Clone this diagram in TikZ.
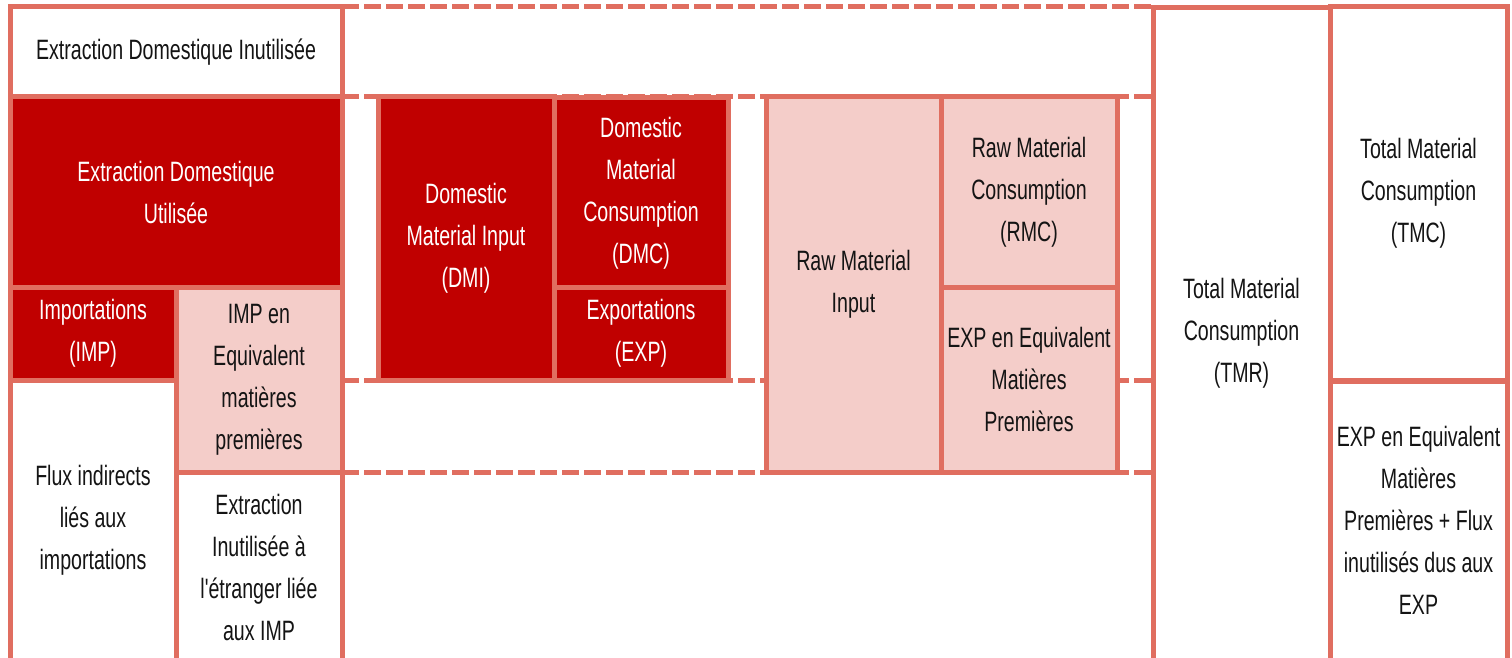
\documentclass[tikz,border=0pt]{standalone}
\usepackage{fontspec}
\setmainfont{Liberation Sans}[FakeStretch=0.70]
\newfontfamily\nolig{Liberation Sans}[FakeStretch=0.70, Ligatures=TeXOff]
\definecolor{lineC}{RGB}{224,110,96}
\definecolor{darkC}{RGB}{192,0,0}
\definecolor{pinkC}{RGB}{244,205,201}
\definecolor{textC}{RGB}{20,20,20}
\tikzset{
  cell/.style={rectangle, inner sep=0pt, outer sep=0pt, draw=lineC, line width=5pt,
    align=center, text=textC, font=\fontsize{28}{42}\selectfont},
  darkcell/.style={cell, fill=darkC, text=white},
  pinkcell/.style={cell, fill=pinkC},
  whitecell/.style={cell, fill=white},
  opencell/.style={rectangle, inner sep=0pt, outer sep=0pt, align=center, text=textC,
    font=\fontsize{28}{42}\selectfont},
  border/.style={draw=lineC, line width=5pt, line join=miter},
  dashline/.style={draw=lineC, line width=5pt, dash pattern=on 17pt off 5pt},
}
\begin{document}
\begin{tikzpicture}[x=1pt,y=-1pt]
\useasboundingbox (0,0) rectangle (1512,658);
\fill[white] (0,0) rectangle (1512,658);
\clip (0,0) rectangle (1512,658);

% open-bottom cells (text holders)
\node[opencell, minimum width=166pt, minimum height=278pt] (flux) at (93,520)
  {Flux indirects\\liés aux\\importations};
\node[opencell, minimum width=166pt, minimum height=186pt] (etr) at (259,567)
  {Extraction\\Inutilisée à\\l{\nolig'}étranger liée\\aux IMP};
\node[opencell, minimum width=177pt, minimum height=651pt] (tmr) at (1241.5,333.5)
  {Total Material\\Consumption\\(TMR)};
\node[opencell, minimum width=177pt, minimum height=278pt] (expfl) at (1418.5,520)
  {EXP en Equivalent\\Matières\\Premières + Flux\\inutilisés dus aux\\EXP};

% left column closed cells
\node[whitecell, minimum width=332pt, minimum height=90pt] (edi) at (176,52)
  {Extraction Domestique Inutilisée};
\node[darkcell, minimum width=332pt, minimum height=190pt] (edu) at (176,192)
  {Extraction Domestique\\Utilisée};
\node[darkcell, minimum width=166pt, minimum height=93pt] (imp) at (93,333.5)
  {Importations\\(IMP)};
\node[pinkcell, minimum width=166pt, minimum height=185pt] (impeq) at (259,379.5)
  {IMP en\\Equivalent\\matières\\premières};

% dashed guide lines (under the boxes)
\draw[dashline] (edi.north east) -- (edi.north east -| tmr.west);
\draw[dashline] (edi.south east) -- (edi.south east -| tmr.west);
\draw[dashline] (imp.south -| impeq.east) -- (imp.south -| tmr.west);
\draw[dashline] (impeq.south east) -- (impeq.south east -| tmr.west);

% middle boxes
\node[darkcell, minimum width=176pt, minimum height=283pt] (dmi) at (466,238.5)
  {Domestic\\Material Input\\(DMI)};
\node[darkcell, minimum width=174pt, minimum height=190pt] (dmc) at (641,193)
  {Domestic\\Material\\Consumption\\(DMC)};
\node[darkcell, minimum width=174pt, minimum height=93pt] (exp) at (641,333.5)
  {Exportations\\(EXP)};
\node[pinkcell, minimum width=175pt, minimum height=375pt] (rmi) at (853.5,284.5)
  {Raw Material\\Input};
\node[pinkcell, minimum width=176pt, minimum height=190pt] (rmc) at (1029,192)
  {Raw Material\\Consumption\\(RMC)};
\node[pinkcell, minimum width=176pt, minimum height=185pt] (expeq) at (1029,379.5)
  {EXP en Equivalent\\Matières\\Premières};

% right column
\node[whitecell, minimum width=177pt, minimum height=373pt] (tmc) at (1418.5,193.5)
  {Total Material\\Consumption\\(TMC)};

% borders of open-bottom cells
\draw[border] (flux.north west) -- (flux.south west);
\draw[border] (flux.north east) -- (flux.south east);
\draw[border] (etr.north east) -- (etr.south east);
\draw[border] (tmr.south west) -- (tmr.north west) -- (tmr.north east) -- (tmr.south east);
\draw[border] (expfl.south west) -- (expfl.north west) -- (expfl.north east) -- (expfl.south east);
\end{tikzpicture}
\end{document}
